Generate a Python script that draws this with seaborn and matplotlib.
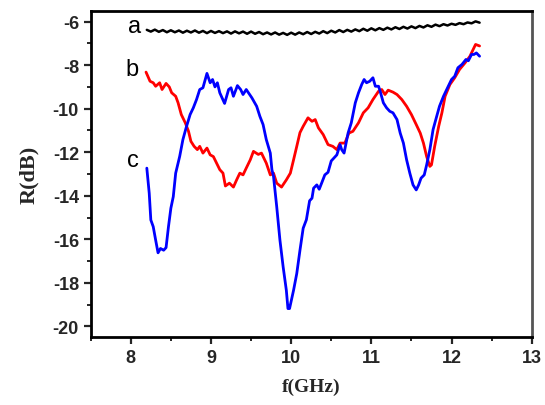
import matplotlib
matplotlib.use("Agg")
import matplotlib.pyplot as plt
from matplotlib.ticker import MultipleLocator
import pandas as pd
import seaborn as sns

# curve a (black)
freq_a = [8.20, 8.25, 8.30, 8.35, 8.40, 8.45, 8.50, 8.55, 8.60, 8.65, 8.70, 8.75,
          8.80, 8.85, 8.90, 8.95, 9.00, 9.05, 9.10, 9.15, 9.20, 9.25, 9.30, 9.35,
          9.40, 9.45, 9.50, 9.55, 9.60, 9.65, 9.70, 9.75, 9.80, 9.85, 9.90, 9.95,
          10.00, 10.05, 10.10, 10.15, 10.20, 10.25, 10.30, 10.35, 10.40, 10.45,
          10.50, 10.55, 10.60, 10.65, 10.70, 10.75, 10.80, 10.85, 10.90, 10.95,
          11.00, 11.05, 11.10, 11.15, 11.20, 11.25, 11.30, 11.35, 11.40, 11.45,
          11.50, 11.55, 11.60, 11.65, 11.70, 11.75, 11.80, 11.85, 11.90, 11.95,
          12.00, 12.05, 12.10, 12.15, 12.20, 12.25, 12.30, 12.35]
r_a = [-6.38, -6.46, -6.37, -6.47, -6.39, -6.49, -6.40, -6.49, -6.41, -6.51, -6.42, -6.50,
       -6.41, -6.51, -6.43, -6.53, -6.43, -6.52, -6.44, -6.53, -6.45, -6.55, -6.45, -6.54,
       -6.46, -6.56, -6.46, -6.56, -6.48, -6.58, -6.50, -6.59, -6.50, -6.60, -6.52, -6.61,
       -6.51, -6.60, -6.50, -6.58, -6.48, -6.57, -6.47, -6.55, -6.44, -6.53,
       -6.42, -6.50, -6.39, -6.48, -6.38, -6.46, -6.36, -6.44, -6.33, -6.42,
       -6.31, -6.40, -6.30, -6.38, -6.28, -6.36, -6.26, -6.34, -6.24, -6.32,
       -6.22, -6.30, -6.20, -6.27, -6.17, -6.24, -6.14, -6.21, -6.12, -6.18,
       -6.10, -6.15, -6.07, -6.12, -6.04, -6.08, -5.99, -6.05]

# curve b (red)
freq_b = [8.19, 8.24, 8.28, 8.31, 8.36, 8.39, 8.44, 8.48, 8.51, 8.56, 8.59, 8.63,
          8.68, 8.72, 8.75, 8.79, 8.83, 8.86, 8.90, 8.95, 8.99, 9.03, 9.07, 9.11,
          9.15, 9.18, 9.23, 9.28, 9.32, 9.36, 9.40, 9.44, 9.49, 9.53, 9.59, 9.63,
          9.69, 9.74, 9.78, 9.82, 9.88, 9.94, 9.99, 10.03, 10.07, 10.11, 10.15,
          10.21, 10.26, 10.30, 10.34, 10.40, 10.46, 10.52, 10.57, 10.61, 10.67,
          10.72, 10.77, 10.84, 10.90, 10.96, 11.02, 11.09, 11.13, 11.17, 11.21,
          11.27, 11.32, 11.38, 11.44, 11.50, 11.56, 11.61, 11.65, 11.69, 11.73,
          11.75, 11.79, 11.84, 11.88, 11.92, 11.98, 12.04, 12.10, 12.17, 12.23,
          12.27, 12.30, 12.35]
r_b = [-8.32, -8.74, -8.81, -8.97, -8.81, -9.12, -8.84, -9.00, -9.27, -9.43, -9.73, -10.27,
       -10.65, -11.04, -11.50, -11.73, -11.88, -11.73, -12.04, -11.81, -12.12, -12.20, -12.50, -12.80,
       -12.96, -13.55, -13.42, -13.60, -13.27, -12.96, -13.04, -12.73, -12.35, -11.96, -12.10, -12.04,
       -12.50, -13.04, -12.96, -13.42, -13.60, -13.27, -12.96, -12.35, -11.73, -11.10, -10.81,
       -10.42, -10.58, -10.50, -10.88, -11.19, -11.65, -11.73, -11.88, -11.58, -11.58,
       -11.12, -11.04, -10.65, -10.19, -9.96, -9.58, -9.20, -9.12, -9.35, -9.15,
       -9.24, -9.35, -9.58, -9.89, -10.27, -10.73, -11.12, -11.58, -12.20, -12.65,
       -12.58, -11.73, -10.81, -10.19, -9.43, -8.89, -8.58, -8.20, -7.89, -7.59,
       -7.28, -7.05, -7.12]

# curve c (blue)
freq_c = [8.20, 8.23, 8.25, 8.28, 8.31, 8.34, 8.37, 8.41, 8.44, 8.47, 8.50, 8.53,
          8.56, 8.61, 8.65, 8.69, 8.74, 8.78, 8.82, 8.86, 8.90, 8.95, 8.99, 9.02,
          9.05, 9.08, 9.11, 9.17, 9.22, 9.25, 9.28, 9.33, 9.37, 9.40, 9.44, 9.51,
          9.57, 9.61, 9.65, 9.69, 9.74, 9.76, 9.78, 9.82, 9.86, 9.90, 9.94, 9.96,
          9.98, 10.03, 10.07, 10.11, 10.15, 10.19, 10.23, 10.26, 10.28, 10.32,
          10.35, 10.38, 10.42, 10.46, 10.50, 10.57, 10.61, 10.63, 10.66, 10.71,
          10.75, 10.80, 10.84, 10.88, 10.91, 10.94, 10.98, 11.02, 11.05, 11.09,
          11.11, 11.15, 11.19, 11.23, 11.27, 11.32, 11.36, 11.40, 11.44, 11.48,
          11.52, 11.56, 11.59, 11.62, 11.66, 11.69, 11.73, 11.77, 11.81, 11.85,
          11.90, 11.94, 12.00, 12.04, 12.08, 12.13, 12.18, 12.21, 12.25, 12.28,
          12.31, 12.35]
r_c = [-12.73, -13.88, -15.11, -15.42, -16.03, -16.62, -16.42, -16.50, -16.38, -15.42, -14.57, -14.04,
       -12.96, -12.19, -11.42, -10.88, -10.27, -9.96, -9.58, -9.12, -9.04, -8.38, -8.81, -8.66,
       -9.00, -8.81, -9.27, -9.76, -9.12, -9.04, -9.43, -8.94, -9.12, -9.35, -9.12, -9.50,
       -9.89, -10.35, -10.73, -11.42, -12.04, -12.80, -13.11, -14.50, -16.03, -17.26, -18.34, -19.18,
       -19.18, -18.34, -17.57, -16.50, -15.49, -15.10, -14.23, -14.11, -13.65, -13.50,
       -13.70, -13.42, -13.04, -12.92, -12.40, -12.12, -11.65, -11.88, -12.04, -11.12,
       -10.65, -9.73, -9.27, -8.89, -8.66, -8.81, -8.74, -8.58, -8.97, -8.97,
       -9.20, -9.73, -9.96, -10.12, -10.19, -10.50, -11.12, -11.58, -12.35, -12.96,
       -13.50, -13.73, -13.50, -13.19, -13.04, -12.58, -11.88, -10.96, -10.42, -9.89,
       -9.43, -9.12, -8.66, -8.51, -8.12, -7.97, -7.74, -7.80, -7.51, -7.51,
       -7.44, -7.59]

curve_labels = ["a", "b", "c"]
curve_colors = ["black", "#ff0000", "#0000ff"]
curve_widths = [1.8, 2.0, 2.0]
label_pos = [(8.05, -6.2), (8.01, -8.2), (8.03, -12.35)]

sns.set_style("ticks")
plt.rcParams["font.family"] = ["Liberation Sans", "DejaVu Sans"]
plt.rcParams["axes.unicode_minus"] = False

fig = plt.figure(figsize=(5.45, 4.06), dpi=100)
ax = fig.add_axes([0.1664, 0.1667, 0.8092, 0.8045])

curves = [(freq_a, r_a), (freq_b, r_b), (freq_c, r_c)]
for (f, r), col, lw in zip(curves, curve_colors, curve_widths):
    df = pd.DataFrame({"f": f, "R": r})
    sns.lineplot(data=df, x="f", y="R", sort=False, color=col, linewidth=lw, ax=ax)

for name, (tx, ty) in zip(curve_labels, label_pos):
    ax.text(tx, ty, name, fontsize=17, ha="center", va="center", color="black")

ax.set_xlim(7.5, 13)
ax.set_ylim(-20.5, -5.5)
ax.xaxis.set_major_locator(MultipleLocator(1))
ax.xaxis.set_minor_locator(MultipleLocator(0.5))
ax.yaxis.set_major_locator(MultipleLocator(2))
ax.yaxis.set_minor_locator(MultipleLocator(1))
ax.set_xticks([8, 9, 10, 11, 12, 13])
ax.tick_params(which="major", direction="out", length=5, width=1.6, labelsize=13)
ax.tick_params(which="minor", direction="out", length=3, width=1.4)
for lab in ax.get_xticklabels() + ax.get_yticklabels():
    lab.set_fontweight("bold")

for side in ["left", "bottom", "top"]:
    ax.spines[side].set_linewidth(2)
    ax.spines[side].set_color("black")
ax.spines["right"].set_linewidth(2)
ax.spines["right"].set_color("#555555")
ax.spines["top"].set_visible(True)
ax.spines["right"].set_visible(True)

ax.set_xlabel("f(GHz)", fontsize=14, fontweight="bold", family="Liberation Serif", labelpad=8)
ax.set_ylabel("R(dB)", fontsize=16, fontweight="bold", family="Liberation Serif", labelpad=10)

fig.savefig("out.png", dpi=100)
